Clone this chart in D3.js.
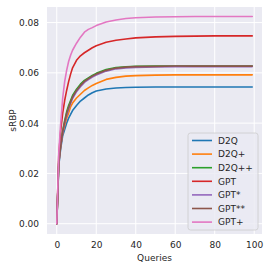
<!DOCTYPE html>
<html>
<head>
<meta charset="utf-8">
<script src="https://cdn.jsdelivr.net/npm/d3@7"></script>
<style>
  body { margin: 0; background: #fff; }
  svg { display: block; font-family: "DejaVu Sans", sans-serif; }
</style>
</head>
<body>
<svg id="chart" width="270" height="270"></svg>
<script>
// query positions where the curves were read
const queries = [0, 1, 2, 3, 4, 5, 6, 7, 8, 10, 12, 14, 16, 18, 20, 25, 30, 35, 40, 50, 60, 70, 80, 90, 99];

const seriesNames = ["D2Q", "D2Q+", "D2Q++", "GPT", "GPT*", "GPT**", "GPT+"];
const seriesColors = ["#1f77b4", "#ff7f0e", "#2ca02c", "#d62728", "#9467bd", "#8c564b", "#e377c2"];

const d2q = [0, 0.023, 0.030, 0.035, 0.0375, 0.040, 0.042, 0.0435, 0.045, 0.047, 0.0488, 0.050, 0.0512, 0.0521, 0.0528, 0.0536, 0.054, 0.0542, 0.0543, 0.0544, 0.0544, 0.0544, 0.0544, 0.0544, 0.0544];
const d2qPlus = [0, 0.024, 0.031, 0.036, 0.039, 0.042, 0.044, 0.0465, 0.048, 0.050, 0.0515, 0.053, 0.054, 0.055, 0.0558, 0.0574, 0.0582, 0.0587, 0.0589, 0.0591, 0.0592, 0.0592, 0.0592, 0.0592, 0.0592];
const d2qPlusPlus = [0, 0.025, 0.032, 0.037, 0.041, 0.0445, 0.047, 0.049, 0.051, 0.0535, 0.0555, 0.057, 0.058, 0.059, 0.0598, 0.0613, 0.0621, 0.0624, 0.0626, 0.0627, 0.0627, 0.0627, 0.0627, 0.0627, 0.0627];
const gpt = [0, 0.027, 0.037, 0.044, 0.049, 0.053, 0.0565, 0.0595, 0.062, 0.065, 0.0668, 0.068, 0.069, 0.070, 0.0708, 0.0722, 0.073, 0.0735, 0.0739, 0.0743, 0.0745, 0.0746, 0.0747, 0.0747, 0.0747];
const gptStar = [0, 0.024, 0.031, 0.036, 0.040, 0.043, 0.0455, 0.0478, 0.0498, 0.0525, 0.0545, 0.0562, 0.0573, 0.0583, 0.0591, 0.0607, 0.0616, 0.062, 0.0622, 0.0624, 0.0625, 0.0625, 0.0625, 0.0625, 0.0625];
const gptStarStar = [0, 0.024, 0.031, 0.0365, 0.0405, 0.0438, 0.0462, 0.0484, 0.0504, 0.053, 0.055, 0.0566, 0.0577, 0.0587, 0.0595, 0.061, 0.0619, 0.0623, 0.0625, 0.0626, 0.0627, 0.0627, 0.0627, 0.0627, 0.0627];
const gptPlus = [0, 0.028, 0.040, 0.050, 0.0565, 0.061, 0.0645, 0.067, 0.069, 0.0718, 0.0742, 0.0762, 0.0773, 0.078, 0.0788, 0.0802, 0.081, 0.0816, 0.0819, 0.0822, 0.0823, 0.0824, 0.0824, 0.0824, 0.0824];

const seriesValues = [d2q, d2qPlus, d2qPlusPlus, gpt, gptStar, gptStarStar, gptPlus];

const xTicks = [0, 20, 40, 60, 80, 100];
const yTicks = [0.00, 0.02, 0.04, 0.06, 0.08];

const margin = { top: 7, right: 8, bottom: 36, left: 47 };
const width = 270, height = 270;
const textColor = "#262626";

const svg = d3.select("#chart");

const x = d3.scaleLinear().domain([-4.95, 103.95]).range([margin.left, width - margin.right]);
const y = d3.scaleLinear().domain([-0.0041, 0.0862]).range([height - margin.bottom, margin.top]);

// background
svg.append("rect")
  .attr("x", margin.left)
  .attr("y", margin.top)
  .attr("width", width - margin.left - margin.right)
  .attr("height", height - margin.top - margin.bottom)
  .attr("fill", "#eaeaf2");

// grid
const grid = svg.append("g");
grid.selectAll(".vg")
  .data(xTicks)
  .enter()
  .append("line")
  .attr("x1", d => x(d)).attr("x2", d => x(d))
  .attr("y1", margin.top).attr("y2", height - margin.bottom)
  .attr("stroke", "#fff").attr("stroke-width", 1);
grid.selectAll(".hg")
  .data(yTicks)
  .enter()
  .append("line")
  .attr("x1", margin.left).attr("x2", width - margin.right)
  .attr("y1", d => y(d)).attr("y2", d => y(d))
  .attr("stroke", "#fff").attr("stroke-width", 1);

// axes (no tick lines, no domain)
const xAxis = svg.append("g")
  .attr("transform", `translate(0, ${height - margin.bottom})`)
  .call(d3.axisBottom(x).tickValues(xTicks).tickSize(0).tickPadding(8).tickFormat(d3.format("d")));
xAxis.select(".domain").remove();
xAxis.selectAll("text").attr("font-size", 9).attr("fill", textColor).attr("font-family", "DejaVu Sans");

const yAxis = svg.append("g")
  .attr("transform", `translate(${margin.left}, 0)`)
  .call(d3.axisLeft(y).tickValues(yTicks).tickSize(0).tickPadding(8).tickFormat(d3.format(".2f")));
yAxis.select(".domain").remove();
yAxis.selectAll("text").attr("font-size", 9).attr("fill", textColor).attr("font-family", "DejaVu Sans");

// lines
const line = d3.line()
  .x((d, i) => x(queries[i]))
  .y(d => y(d));

svg.append("g")
  .selectAll("path")
  .data(seriesValues)
  .enter()
  .append("path")
  .attr("d", line)
  .attr("fill", "none")
  .attr("stroke", (d, i) => seriesColors[i])
  .attr("stroke-width", 1.6)
  .attr("stroke-linejoin", "round")
  .attr("stroke-linecap", "round");

// axis labels
svg.append("text")
  .attr("x", (margin.left + width - margin.right) / 2)
  .attr("y", 261)
  .attr("text-anchor", "middle")
  .attr("font-size", 9)
  .attr("fill", textColor)
  .text("Queries");

svg.append("text")
  .attr("transform", `translate(16, ${(margin.top + height - margin.bottom) / 2}) rotate(-90)`)
  .attr("text-anchor", "middle")
  .attr("font-size", 9)
  .attr("fill", textColor)
  .text("sRBP");

// legend
const legend = svg.append("g").attr("transform", "translate(188, 133)");
legend.append("rect")
  .attr("width", 70)
  .attr("height", 97)
  .attr("rx", 2.5)
  .attr("fill", "#eaeaf2")
  .attr("fill-opacity", 0.8)
  .attr("stroke", "#cccccc")
  .attr("stroke-width", 0.8);

legend.selectAll(".item")
  .data(seriesNames)
  .enter()
  .append("g")
  .attr("transform", (d, i) => `translate(0, ${7.5 + i * 13.6})`)
  .each(function(d, i) {
    d3.select(this).append("line")
      .attr("x1", 4).attr("x2", 24)
      .attr("y1", 0).attr("y2", 0)
      .attr("stroke", seriesColors[i])
      .attr("stroke-width", 1.6);
    d3.select(this).append("text")
      .attr("x", 30)
      .attr("y", 3.3)
      .attr("font-size", 9)
      .attr("fill", textColor)
      .text(d);
  });
</script>
</body>
</html>
